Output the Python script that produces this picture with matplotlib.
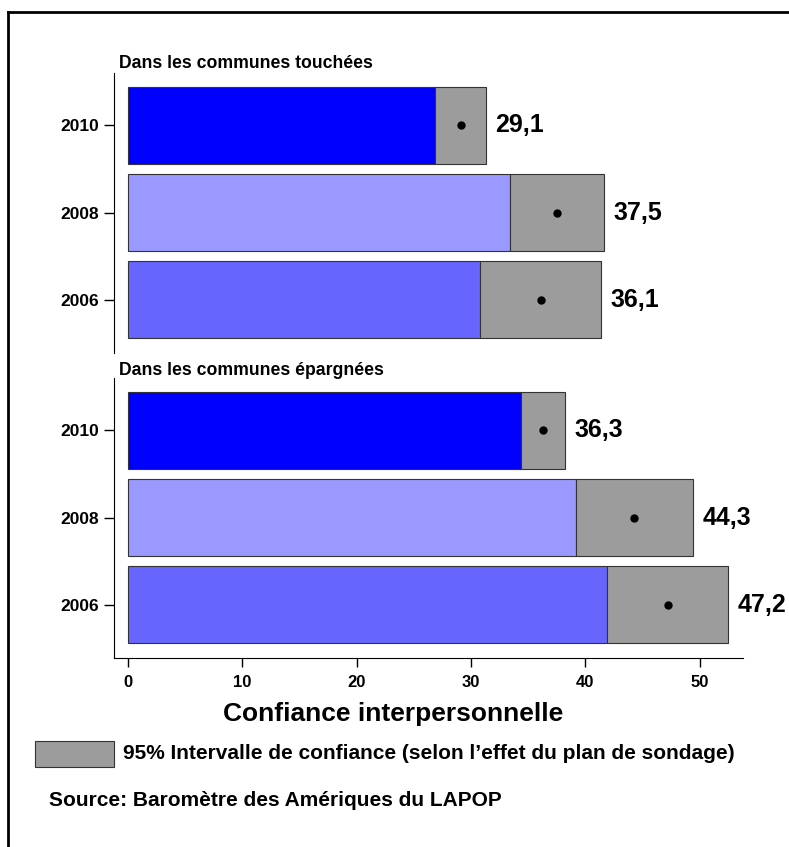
import matplotlib
matplotlib.use("Agg")
import matplotlib.pyplot as plt
from matplotlib.patches import Rectangle
from matplotlib.lines import Line2D

# years, bottom to top
years = ["2006", "2008", "2010"]
bar_colors = ["#6666ff", "#9999ff", "#0000ff"]

# communes touchées
mean_touchees = [36.1, 37.5, 29.1]
low_touchees = [30.8, 33.4, 26.9]
high_touchees = [41.4, 41.6, 31.3]

# communes épargnées
mean_epargnees = [47.2, 44.3, 36.3]
low_epargnees = [41.9, 39.2, 34.4]
high_epargnees = [52.5, 49.4, 38.2]

panel_titles = ["Dans les communes touchées", "Dans les communes épargnées"]
xticks = [0, 10, 20, 30, 40, 50]

W, H = 789, 847
plt.rcParams["font.family"] = ["Liberation Sans", "DejaVu Sans"]
plt.rcParams["font.weight"] = "bold"

fig = plt.figure(figsize=(W / 100, H / 100), dpi=100)


def px_axes(left, top, right, bottom):
    return fig.add_axes([left / W, 1 - bottom / H, (right - left) / W, (bottom - top) / H])


def px_text(x, y, s, **kw):
    return fig.text(x / W, 1 - y / H, s, fontweight="bold", **kw)


def draw_panel(ax, means, lows, highs, show_x):
    y = list(range(len(years)))
    ax.barh(y, lows, height=0.88, color=bar_colors, edgecolor="#333333", linewidth=0.8)
    widths = [h - l for l, h in zip(lows, highs)]
    ax.barh(y, widths, left=lows, height=0.88, color="#9c9c9c", edgecolor="#333333", linewidth=0.8)
    ax.plot(means, y, "o", color="black", markersize=5)
    for yi, m, h in zip(y, means, highs):
        ax.annotate(f"{m:.1f}".replace(".", ","), (h, yi), xytext=(7, 0),
                    textcoords="offset points", va="center", ha="left",
                    fontsize=18, fontweight="bold")
    ax.set_xlim(-1.22, 53.8)
    ax.set_ylim(-0.61, 2.6)
    ax.set_yticks(y)
    ax.set_yticklabels(years, fontsize=12.5, fontweight="bold")
    ax.spines["top"].set_visible(False)
    ax.spines["right"].set_visible(False)
    ax.tick_params(axis="y", length=7.5, width=1, pad=3.5)
    if show_x:
        ax.set_xticks(xticks)
        ax.set_xticklabels([str(t) for t in xticks], fontsize=12, fontweight="bold")
        ax.tick_params(axis="x", length=6.5, width=1, pad=6)
    else:
        ax.spines["bottom"].set_visible(False)
        ax.set_xticks([])


ax_top = px_axes(114, 73, 743, 353)
draw_panel(ax_top, mean_touchees, low_touchees, high_touchees, False)
px_text(119, 63, panel_titles[0], ha="left", va="center", fontsize=12.7)

ax_bot = px_axes(114, 378, 743, 658)
draw_panel(ax_bot, mean_epargnees, low_epargnees, high_epargnees, True)
px_text(119, 370, panel_titles[1], ha="left", va="center", fontsize=12.7)

px_text(393, 714, "Confiance interpersonnelle", ha="center", va="center", fontsize=19)

# confidence interval legend
fig.patches.append(Rectangle((35 / W, 1 - 767 / H), 79 / W, 26 / H, transform=fig.transFigure,
                             facecolor="#9c9c9c", edgecolor="#333333", linewidth=0.8))
px_text(123, 753, "95% Intervalle de confiance (selon l\u2019effet du plan de sondage)",
        ha="left", va="center", fontsize=15)
px_text(49, 800, "Source: Baromètre des Amériques du LAPOP", ha="left", va="center",
        fontsize=15)

# outer frame
fig.lines.append(Line2D([8 / W, 8 / W], [0, 1 - 12 / H], transform=fig.transFigure,
                        color="black", linewidth=2))
fig.lines.append(Line2D([8 / W, 1], [1 - 12 / H, 1 - 12 / H], transform=fig.transFigure,
                        color="black", linewidth=2))

fig.savefig("out.png", dpi=100)
